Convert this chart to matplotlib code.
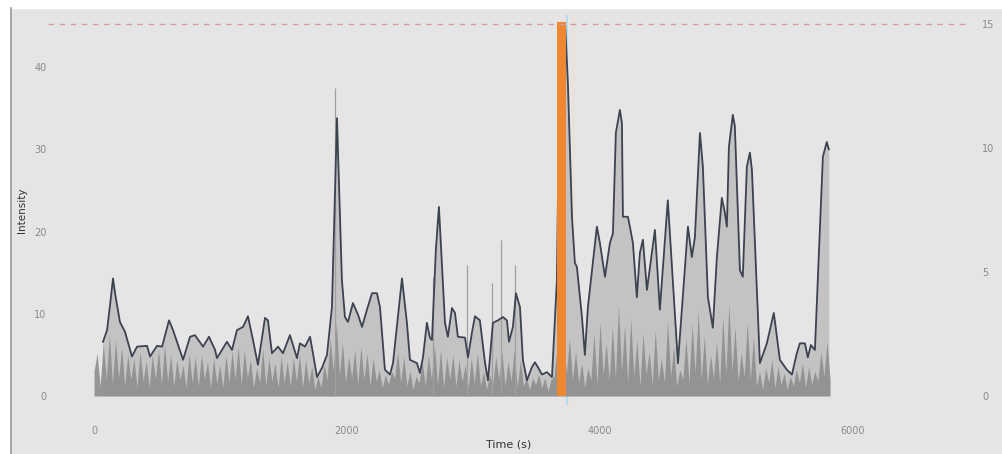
import numpy as np
import matplotlib
matplotlib.use("Agg")
from matplotlib import pyplot as plt
from matplotlib.patches import Rectangle

# smoothed intensity envelope (time in s, intensity)
env_t = [71, 103, 130, 150, 166, 205, 245, 300, 340, 419, 443, 498, 538, 593, 625, 704,
         759, 798, 862, 909, 957, 972, 1051, 1091, 1130, 1178, 1217, 1257, 1296, 1352, 1375,
         1407, 1455, 1494, 1549, 1605, 1628, 1668, 1708, 1731, 1763, 1802, 1842, 1881, 1921,
         1960, 1984, 2008, 2047, 2087, 2119, 2158, 2198, 2237, 2261, 2300, 2340, 2364, 2435,
         2474, 2498, 2553, 2577, 2601, 2632, 2656, 2672, 2703, 2727, 2775, 2798, 2830, 2854,
         2877, 2933, 2957, 2988, 3012, 3051, 3091, 3115, 3154, 3194, 3233, 3265, 3281, 3312,
         3336, 3368, 3391, 3423, 3462, 3486, 3510, 3542, 3581, 3621, 3644, 3660, 3685, 3725,
         3747, 3779, 3802, 3818, 3858, 3881, 3905, 3976, 4000, 4040, 4079, 4103, 4126, 4158,
         4174, 4182, 4221, 4237, 4261, 4292, 4316, 4340, 4372, 4435, 4474, 4537, 4617, 4696,
         4727, 4751, 4791, 4814, 4854, 4893, 4925, 4964, 4988, 5004, 5020, 5051, 5067, 5107,
         5130, 5162, 5186, 5202, 5265, 5320, 5375, 5423, 5478, 5518, 5557, 5581, 5621, 5644,
         5668, 5700, 5763, 5794, 5810]
env_v = [6.6, 8.0, 11.5, 14.3, 12.5, 9.0, 7.8, 4.8, 6.0, 6.1, 4.8, 6.1, 6.0, 9.2, 8.0, 4.4,
         7.2, 7.4, 6.0, 7.2, 5.6, 4.6, 6.6, 5.6, 8.0, 8.4, 9.7, 6.8, 3.8, 9.5, 9.2,
         5.2, 6.0, 5.2, 7.4, 4.6, 6.4, 6.0, 7.2, 5.2, 2.3, 3.4, 5.0, 10.8, 33.8,
         14.1, 9.6, 9.0, 11.3, 9.9, 8.4, 10.5, 12.5, 12.5, 10.8, 3.2, 2.6, 4.0, 14.3,
         8.9, 4.4, 4.0, 2.8, 4.7, 8.9, 7.1, 6.8, 17.8, 23.0, 8.9, 7.2, 10.7, 10.1,
         7.2, 7.1, 4.7, 7.7, 9.7, 9.2, 4.1, 1.9, 8.9, 9.2, 9.6, 9.2, 6.6, 8.4,
         12.5, 10.8, 4.4, 1.9, 3.5, 4.1, 3.5, 2.6, 2.9, 2.3, 9.2, 14.1, 45.2, 45.2,
         38.0, 21.8, 16.2, 15.7, 9.6, 5.0, 10.8, 20.6, 18.6, 14.5, 18.6, 19.8, 32.0, 34.8,
         33.2, 21.8, 21.8, 20.6, 18.6, 12.0, 17.4, 19.0, 12.9, 20.2, 10.5, 23.8, 4.0, 20.6,
         16.9, 19.3, 32.0, 27.9, 12.0, 8.3, 16.9, 24.1, 22.3, 20.6, 30.3, 34.2, 32.8, 15.3,
         14.5, 27.9, 29.6, 27.5, 4.0, 6.4, 10.1, 4.4, 3.2, 2.6, 5.2, 6.4, 6.4, 4.7,
         6.2, 5.6, 29.1, 30.9, 30.0]

# raw per-channel signal (dark striped base), sampled every ~24 s from 0 to 5820 s
raw_v = [3.0, 5.2, 1.2, 6.5, 2.0, 7.5, 1.5, 6.8, 2.2, 5.8,
         1.3, 5.0, 2.0, 4.6, 1.0, 5.4, 1.8, 4.2, 1.1, 5.0,
         2.0, 5.6, 1.4, 6.2, 1.8, 5.0, 1.2, 4.4, 2.0, 3.8,
         1.0, 5.2, 1.6, 4.8, 1.2, 5.0, 2.0, 4.2, 1.0, 4.6,
         1.5, 3.8, 1.0, 5.0, 1.6, 5.4, 2.0, 6.0, 1.4, 5.6,
         2.2, 4.4, 1.0, 3.4, 1.6, 5.8, 1.2, 4.6, 1.8, 4.0,
         1.0, 4.8, 1.6, 4.2, 1.2, 4.6, 1.8, 5.0, 1.0, 4.4,
         1.6, 3.6, 0.8, 2.4, 1.0, 3.8, 2.0, 7.0, 3.0, 9.0,
         2.5, 6.5, 1.6, 4.8, 2.2, 5.6, 1.4, 6.0, 2.0, 5.2,
         1.2, 4.6, 1.8, 3.2, 1.0, 2.6, 1.4, 3.0, 2.2, 5.4,
         1.6, 4.8, 1.2, 3.0, 0.8, 2.4, 1.6, 4.2, 1.2, 5.0,
         2.0, 6.2, 1.4, 5.6, 1.0, 4.8, 2.0, 5.0, 1.2, 4.4,
         1.8, 3.8, 1.0, 4.6, 1.6, 5.2, 1.2, 3.0, 0.8, 2.6,
         1.4, 4.8, 2.0, 5.4, 1.2, 4.2, 1.8, 5.6, 1.0, 4.4,
         1.2, 2.4, 0.8, 2.2, 1.4, 2.6, 1.0, 2.2, 0.6, 2.0,
         2.4, 6.0, 3.0, 8.0, 2.6, 7.0, 2.0, 5.4, 1.6, 4.0,
         1.0, 3.4, 2.0, 7.6, 1.4, 9.0, 2.6, 6.4, 1.8, 8.4,
         2.2, 11.0, 3.0, 8.6, 1.6, 9.4, 2.4, 6.8, 1.2, 7.6,
         2.6, 5.4, 1.4, 8.0, 2.0, 4.6, 1.6, 9.2, 2.4, 6.0,
         1.2, 3.2, 2.0, 7.0, 1.6, 8.8, 2.8, 10.4, 2.0, 7.4,
         1.4, 5.0, 2.2, 6.6, 1.6, 9.6, 2.6, 11.2, 3.0, 8.4,
         1.8, 5.2, 2.4, 9.0, 2.0, 7.2, 1.2, 3.0, 0.8, 3.4,
         1.6, 4.4, 1.0, 3.6, 1.4, 2.8, 0.8, 2.4, 1.2, 3.2,
         1.6, 4.0, 1.0, 3.6, 1.4, 3.0, 1.8, 5.4, 2.4, 6.6,
         2.0]
RAW_START, RAW_END = 0, 5820

# isolated sharp spikes
spike_t = [1905, 2680, 2949, 3146, 3217, 3328]
spike_v = [37.5, 14.5, 15.9, 13.7, 19.0, 15.9]

# highlighted event
EVENT_START, EVENT_END = 3660, 3731
THRESHOLD = 15  # right axis units

BG = "#e5e5e5"

fig = plt.figure(figsize=(10.02, 4.54), dpi=100, facecolor=BG)
# white margins / frame line like the screenshot
fig.patches.append(Rectangle((0, 0.982), 1, 0.02, transform=fig.transFigure, color="white", zorder=0))
fig.patches.append(Rectangle((0, 0), 0.010, 1, transform=fig.transFigure, color="white", zorder=0))
fig.add_artist(plt.Line2D([0.011, 0.011], [0.0, 0.982], color="#9a9a9a", lw=1.2, transform=fig.transFigure))

ax = fig.add_axes([0.0479, 0.108, 0.920, 0.859])
ax.set_facecolor(BG)
for s in ax.spines.values():
    s.set_visible(False)

raw_t = np.linspace(RAW_START, RAW_END, len(raw_v))
env_on_raw = np.interp(raw_t, env_t, env_v)
raw_clip = np.minimum(raw_v, env_on_raw)

ax.fill_between(env_t, 0, env_v, color="#c3c3c3", lw=0, zorder=2)
ax.fill_between(raw_t, 0, raw_clip, color="#8e8e8e", lw=0, alpha=0.9, zorder=3)
ax.vlines(spike_t, 0, spike_v, color="#a0a0a0", lw=0.9, zorder=3)
ax.plot(env_t, env_v, color="#3c4250", lw=1.3, zorder=4)

ax.bar((EVENT_START + EVENT_END) / 2, THRESHOLD * 3.03, width=EVENT_END - EVENT_START,
       color="#ef8631", lw=0, zorder=5)
ax.axvline(EVENT_END + 12, color="#a9d9ee", lw=1.3, alpha=0.8, zorder=1)
ax.axvline(EVENT_END + 60, color="#f3dcc6", lw=1.0, alpha=0.8, zorder=1)

ax.set_xlim(-364, 6925)
ax.set_ylim(-1.095, 46.35)
ax.set_xticks([0, 2000, 4000, 6000])
ax.set_yticks([0, 10, 20, 30, 40])
ax.tick_params(axis="both", length=0, labelsize=7, labelcolor="#8a8a8a")
ax.tick_params(axis="x", pad=15)
ax.tick_params(axis="y", pad=1)
ax.set_xlabel("Time (s)", fontsize=8, color="#333333", labelpad=3)
ax.set_ylabel("Intensity", fontsize=7.5, color="#333333", labelpad=5)

ax2 = ax.twinx()
for s in ax2.spines.values():
    s.set_visible(False)
ax2.set_ylim(-0.363, 15.36)
ax2.set_yticks([0, 5, 10, 15])
ax2.tick_params(axis="y", length=0, labelsize=7, labelcolor="#8a8a8a", pad=9)
ax2.axhline(THRESHOLD, color="#d79a9e", lw=1.0, ls=(0, (4, 4)), zorder=1)

fig.savefig("out.png", dpi=100, facecolor=fig.get_facecolor())
